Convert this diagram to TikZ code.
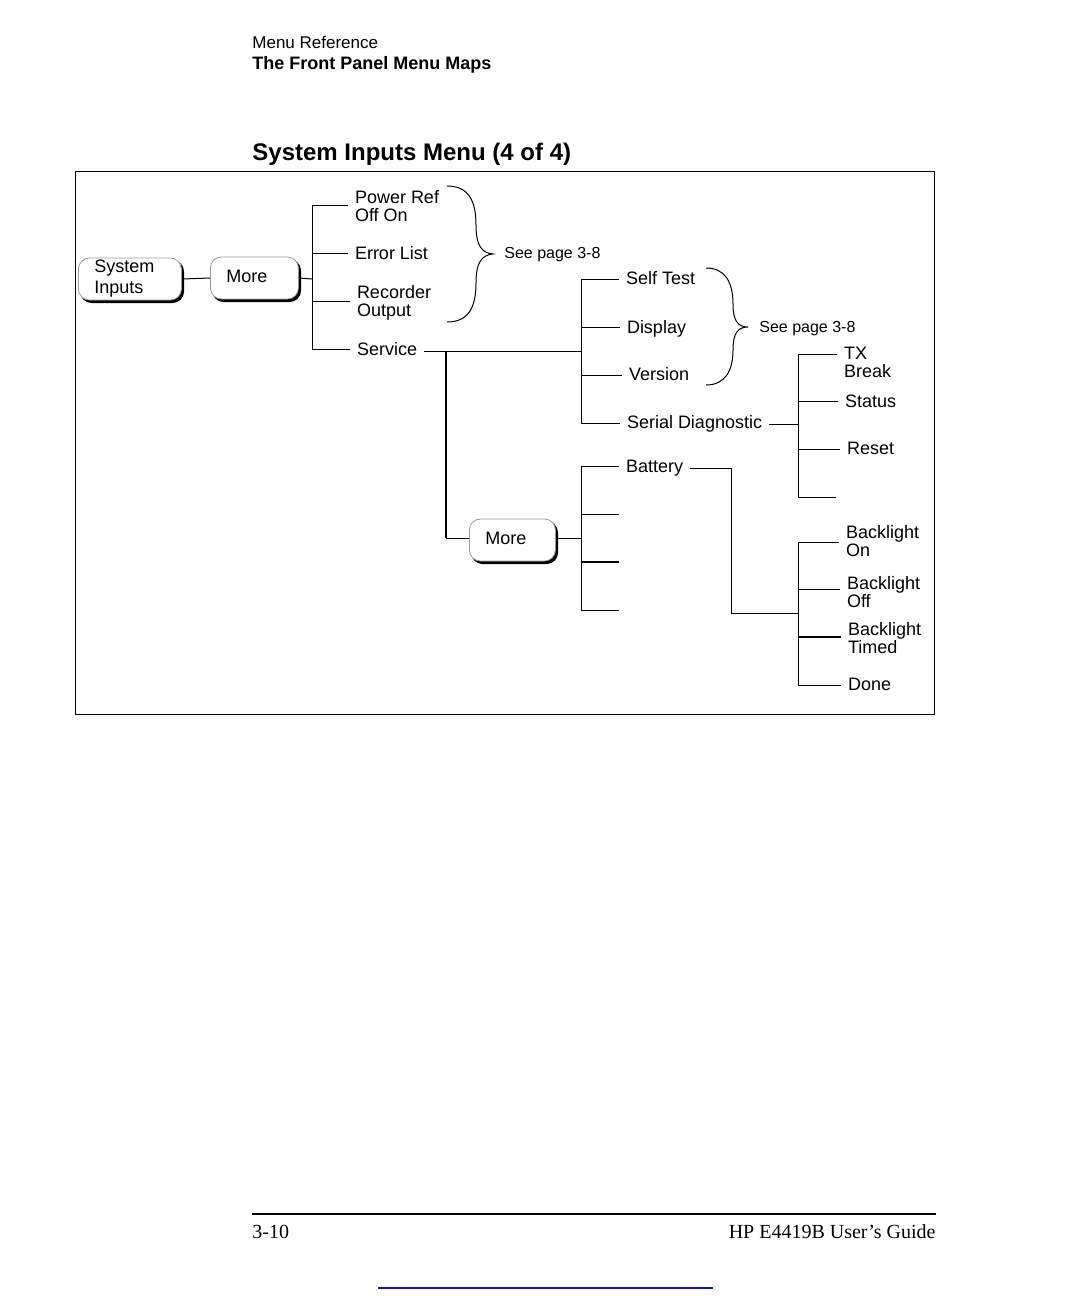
\documentclass[tikz,border=0pt]{standalone}
\usepackage{fontspec}
\setmainfont{Liberation Serif}
\setsansfont{Liberation Sans}
\usetikzlibrary{calc,shadows}
\definecolor{linkblue}{RGB}{20,20,170}

\tikzset{
  menukey/.style={draw=black!40, line width=0.4pt, fill=white, rounded corners=5.5pt,
    copy shadow={shadow xshift=1.1pt, shadow yshift=-1.3pt, fill=black, draw=black},
    anchor=west, minimum height=21pt, inner xsep=8pt, inner ysep=0pt, align=left,
    font=\sffamily\fontsize{9}{10.5}\selectfont},
  menuitem/.style={anchor=west, inner sep=0pt, outer xsep=3.5pt, align=left,
    font=\sffamily\fontsize{9}{9}\selectfont},
  menuline/.style={menuitem, text height=6.5pt, text depth=0pt},
  seepage/.style={anchor=west, inner sep=0pt, text height=5.8pt, text depth=0pt,
    font=\sffamily\fontsize{8}{8}\selectfont},
  wire/.style={line width=0.5pt, black},
  heavywire/.style={line width=1pt, black},
}

\begin{document}
\begin{tikzpicture}[x=0.5pt,y=-0.5pt]
    \useasboundingbox (0,0) rectangle (1080,1296);
    \fill[white] (0,0) rectangle (1080,1296);

    \node[anchor=base west,inner sep=0pt,font=\sffamily\fontsize{8.5}{10}\selectfont] (hdrsec) at (252,48) {Menu Reference};
    \node[anchor=base west,inner sep=0pt,font=\sffamily\bfseries\fontsize{9}{10}\selectfont] (hdrmaps) at (252,69) {The Front Panel Menu Maps};
    \node[anchor=base west,inner sep=0pt,font=\sffamily\bfseries\fontsize{12}{14}\selectfont] (menutitle) at (252,160) {System Inputs Menu (4 of 4)};
    \draw[wire] (75,171) rectangle (934,714);

    \node[menukey,text width=35.5pt] (sysin) at (78,279) {System\\Inputs};
    \node[menukey,text width=28pt] (more) at (210,278) {More\vphantom{p}};
    \draw[wire] (sysin.east) -- (more.west);

    \coordinate (ajoin) at (312,279);
    \coordinate (a1) at (312,205);
    \coordinate (a2) at (312,253);
    \coordinate (a3) at (312,301);
    \coordinate (a4) at (312,349);
    \node[menuitem] (pwrref) at (348,206) {Power Ref\\Off On};
    \node[menuline] (errlist) at (348,253) {Error List};
    \node[menuitem] (recout) at (350,303) {Recorder\\Output};
    \node[menuline] (service) at (350,349) {Service};
    \draw[wire] (more.east) -- (ajoin);
    \draw[wire] (a1) -- (a4);
    \foreach \c/\n in {a1/pwrref,a2/errlist,a3/recout,a4/service}
      \draw[wire] (\c) -- (\c -| \n.west);

    \draw[wire] (447,186) .. controls (468,186) and (476,200) .. (476,225)
      .. controls (476,246) and (482,253) .. (493,254)
      .. controls (482,255) and (476,262) .. (476,283)
      .. controls (476,308) and (468,322) .. (447,322);
    \node[seepage] (seeone) at (504,253) {See page 3-8};

    \coordinate (b0) at (581,351);
    \coordinate (b1) at (581,279);
    \coordinate (b2) at (581,327);
    \coordinate (b3) at (581,375);
    \coordinate (b4) at (581,423);
    \node[menuline] (selftest) at (619,278) {Self Test};
    \node[menuline] (display) at (620,327) {Display};
    \node[menuline] (version) at (622,374) {Version};
    \node[menuline] (serdiag) at (620,422) {Serial Diagnostic};
    \draw[wire] (b0 -| service.east) -- (b0);
    \draw[wire] (b1) -- (b4);
    \foreach \c/\n in {b1/selftest,b2/display,b3/version,b4/serdiag}
      \draw[wire] (\c) -- (\c -| \n.west);

    \draw[wire] (706,268) .. controls (725,268) and (733,282) .. (733,304)
      .. controls (733,321) and (738,327) .. (748,327)
      .. controls (738,327) and (733,333) .. (733,350)
      .. controls (733,371) and (725,385) .. (706,385);
    \node[seepage] (seetwo) at (759,327) {See page 3-8};

    \coordinate (c0) at (798,424);
    \coordinate (c1) at (798,354);
    \coordinate (c2) at (798,401);
    \coordinate (c3) at (798,449);
    \coordinate (c4) at (798,497);
    \coordinate (c4end) at (836,497);
    \node[menuitem] (txbreak) at (837,362) {TX\\Break};
    \node[menuline] (status) at (838,401) {Status};
    \node[menuline] (reset) at (840,448) {Reset};
    \draw[wire] (c0 -| serdiag.east) -- (c0);
    \draw[wire] (c1) -- (c4);
    \foreach \c/\n in {c1/txbreak,c2/status,c3/reset}
      \draw[wire] (\c) -- (\c -| \n.west);
    \draw[wire] (c4) -- (c4end);

    \coordinate (s0) at (446,351);
    \coordinate (s1) at (446,538);
    \node[menukey,text width=27pt] (moreb) at (469,540) {More\vphantom{p}};
    \draw[heavywire] (s0) -- (s1);
    \draw[wire] (s1) -- (s1 -| moreb.west);

    \coordinate (e0) at (581,538);
    \coordinate (e1) at (581,466);
    \coordinate (e2) at (581,514);
    \coordinate (e3) at (581,562);
    \coordinate (e4) at (581,610);
    \coordinate (f2) at (619,514);
    \coordinate (f3) at (619,562);
    \coordinate (f4) at (619,610);
    \node[menuline] (battery) at (619,466) {Battery};
    \draw[wire] (moreb.east |- e0) -- (e0);
    \draw[wire] (e1) -- (e4);
    \draw[wire] (e1) -- (battery.west);
    \draw[wire] (e2) -- (f2);
    \draw[heavywire] (e3) -- (f3);
    \draw[wire] (e4) -- (f4);

    \coordinate (g0) at (731,468);
    \coordinate (g1) at (731,613);
    \coordinate (d0) at (798,613);
    \draw[wire] (g0 -| battery.east) -- (g0) -- (g1) -- (d0);

    \coordinate (d1) at (798,542);
    \coordinate (d2) at (798,589);
    \coordinate (d3) at (798,637);
    \coordinate (d4) at (798,685);
    \node[menuitem] (blon) at (839,541) {Backlight\\On};
    \node[menuitem] (bloff) at (840,592) {Backlight\\Off};
    \node[menuitem] (bltimed) at (841,638) {Backlight\\Timed};
    \node[menuline] (done) at (841,684) {Done};
    \draw[wire] (d1) -- (d4);
    \draw[wire] (d1) -- (d1 -| blon.west);
    \draw[wire] (d2) -- (d2 -| bloff.west);
    \draw[heavywire] (d3) -- (d3 -| bltimed.west);
    \draw[wire] (d4) -- (d4 -| done.west);

    \coordinate (rulel) at (252,1214);
    \coordinate (ruler) at (936,1214);
    \draw[line width=0.6pt] (rulel) -- (ruler);
    \node[anchor=base west,inner sep=0pt,font=\rmfamily\fontsize{10}{12}\selectfont] (pagenum) at (252,1238) {3-10};
    \node[anchor=base east,inner sep=0pt,font=\rmfamily\fontsize{10}{12}\selectfont] (guide) at (936,1238) {HP E4419B User's Guide};
    \coordinate (linkl) at (378,1288);
    \coordinate (linkr) at (713,1288);
    \draw[linkblue,line width=0.7pt] (linkl) -- (linkr);
\end{tikzpicture}
\end{document}
